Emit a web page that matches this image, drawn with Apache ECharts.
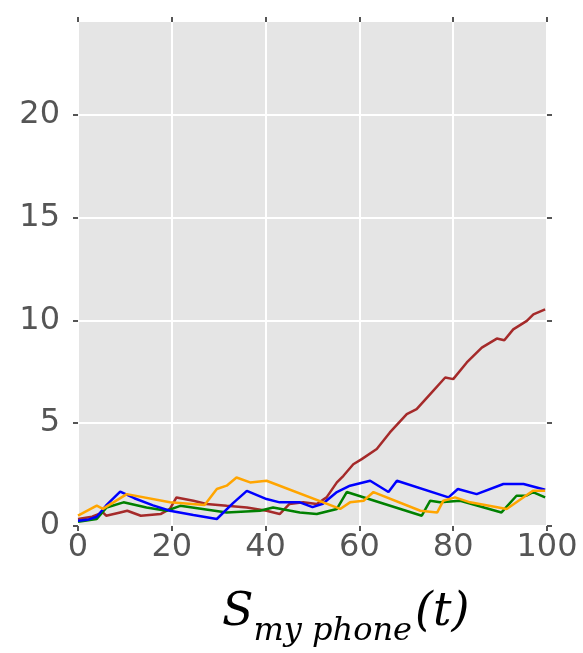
<!DOCTYPE html>
<html><head><meta charset="utf-8">
<script src="https://cdn.jsdelivr.net/npm/echarts@6/dist/echarts.min.js"></script>
<style>html,body{margin:0;padding:0;background:#fff}#c{width:583px;height:653px}</style>
</head><body><div id="c"></div>
<script>
const xTicks = [0, 20, 40, 60, 80, 100];
const yTicks = [0, 5, 10, 15, 20];
const blueSeries = [[0,0.26],[2,0.3],[4,0.45],[6,1.0],[9,1.67],[12,1.35],[16,1.0],[19.6,0.74],[24.6,0.53],[29.6,0.34],[33,1.1],[36,1.71],[40.2,1.31],[43,1.15],[47.3,1.15],[50,0.92],[52.2,1.08],[55.2,1.65],[58,1.96],[62.3,2.2],[66.2,1.65],[68,2.2],[79,1.39],[81,1.8],[85,1.55],[90.7,2.04],[95,2.04],[99.6,1.76]];
const orangeSeries = [[0,0.5],[4,0.99],[5.3,0.83],[10.4,1.55],[19.6,1.15],[27,1.02],[29.6,1.8],[31.7,1.96],[33.8,2.36],[36.7,2.12],[40.2,2.2],[55.9,0.83],[58,1.15],[60.9,1.23],[63,1.65],[73,0.74],[76.6,0.66],[77.9,1.23],[80.4,1.39],[83.6,1.15],[91.4,0.83],[97,1.71],[99.6,1.71]];
const greenSeries = [[0,0.2],[4,0.34],[6.1,0.9],[9.7,1.15],[14.6,0.9],[18.9,0.74],[21.8,0.98],[31.7,0.66],[38.8,0.74],[41.6,0.9],[47.3,0.66],[50.9,0.58],[55.2,0.83],[57.3,1.65],[73.3,0.5],[75.1,1.23],[77.2,1.15],[81.5,1.23],[90.3,0.66],[93.5,1.47],[95.6,1.47],[97,1.65],[99.6,1.39]];
const brownSeries = [[0,0.34],[3,0.45],[5.3,0.66],[6,0.5],[9,0.66],[10.5,0.74],[13.4,0.5],[17.6,0.58],[19.6,0.83],[21,1.39],[24.6,1.23],[27.4,1.07],[31.7,0.98],[36,0.9],[40.2,0.74],[43,0.58],[45.1,1.07],[48,1.15],[50.9,1.07],[53,1.39],[55.2,2.12],[56.6,2.44],[58.7,3.0],[60.5,3.25],[63.7,3.74],[66.5,4.55],[70.1,5.44],[72.2,5.68],[75.1,6.41],[78.3,7.22],[80,7.14],[82.9,7.95],[86.1,8.67],[89.3,9.11],[90.9,9.03],[92.8,9.56],[95.7,9.97],[97.1,10.29],[99.6,10.53]];

const chart = echarts.init(document.getElementById('c'), null, {renderer:'canvas'});
const labelStyle = {color:'#555', fontSize:32, fontFamily:'DejaVu Sans'};
const tickLine = {color:'#555', width:2};
const noLine = {show:false, onZero:false};
function mkLine(data, color, ax){
  return {type:'line', data:data, xAxisIndex:ax, yAxisIndex:ax, showSymbol:false, symbol:'none', lineStyle:{color:color, width:2.5}, itemStyle:{color:color}, animation:false, z:3};
}
chart.setOption({
  animation:false,
  backgroundColor:'#fff',
  grid:{left:78, right:36, top:22, bottom:127, show:true, backgroundColor:'#e5e5e5', borderWidth:0},
  xAxis:[
    {type:'value', min:0, max:100, interval:20, position:'bottom',
     axisLine:noLine, axisTick:{show:true, length:5, customValues:xTicks, lineStyle:tickLine},
     axisLabel:Object.assign({margin:6, customValues:xTicks}, labelStyle),
     splitLine:{show:true, lineStyle:{color:'#fff', width:2}}},
    {type:'value', min:0, max:100, interval:20, position:'top',
     axisLine:noLine, axisTick:{show:true, length:5, customValues:xTicks, lineStyle:tickLine},
     axisLabel:{show:false}, splitLine:{show:false}}
  ],
  yAxis:[
    {type:'value', min:0, max:24.5, interval:5, position:'left',
     axisLine:noLine, axisTick:{show:true, length:5, customValues:yTicks, lineStyle:tickLine},
     axisLabel:Object.assign({margin:18, customValues:yTicks}, labelStyle),
     splitLine:{show:true, lineStyle:{color:'#fff', width:2}}},
    {type:'value', min:0, max:24.5, interval:5, position:'right',
     axisLine:noLine, axisTick:{show:true, length:5, customValues:yTicks, lineStyle:tickLine},
     axisLabel:{show:false}, splitLine:{show:false}}
  ],
  series:[
    mkLine(brownSeries, '#a52a2a', 1),
    mkLine(greenSeries, '#008000', 0),
    mkLine(blueSeries, '#0000ff', 0),
    mkLine(orangeSeries, '#ffa500', 0)
  ],
  graphic:[{
    type:'text', left:222, top:590,
    style:{
      text:'{s|S}{sub|my phone}{p|(t)}',
      rich:{
        s:{fontFamily:'DejaVu Serif', fontStyle:'italic', fontSize:46, fill:'#000', verticalAlign:'bottom'},
        sub:{fontFamily:'DejaVu Serif', fontStyle:'italic', fontSize:32, fill:'#000', padding:[0,3,-12,0], verticalAlign:'bottom'},
        p:{fontFamily:'DejaVu Serif', fontStyle:'italic', fontSize:46, fill:'#000', verticalAlign:'bottom'}
      }
    }
  }]
});
</script></body></html>
